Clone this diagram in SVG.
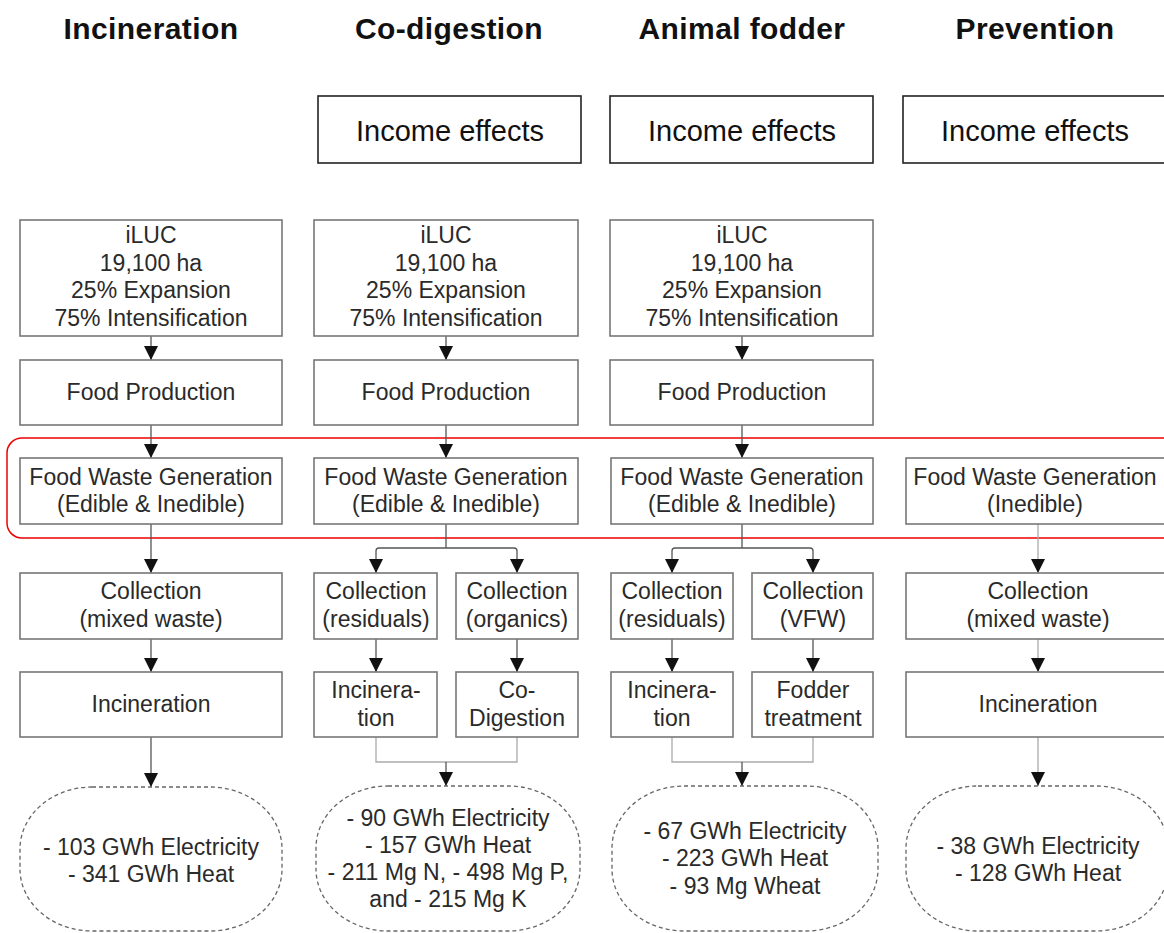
<svg xmlns="http://www.w3.org/2000/svg" width="1164" height="933" viewBox="0 0 1164 933">
<defs>
<marker id="ah" viewBox="0 0 10 10" refX="10" refY="5" markerWidth="14" markerHeight="14" markerUnits="userSpaceOnUse" orient="auto">
<path d="M0,0 L10,5 L0,10 z" fill="#111"/>
</marker>
<style>
.title{font-family:"Liberation Sans",Arial,sans-serif;font-weight:bold;font-size:30px;fill:#111;text-anchor:middle;letter-spacing:0.4px}
.ie{font-family:"Liberation Sans",Arial,sans-serif;font-size:29px;fill:#111;text-anchor:middle}
.iebox{fill:#fff;stroke:#222;stroke-width:1.6}
.box{fill:#fff;stroke:#777;stroke-width:1.6}
.oval{fill:#fff;stroke:#666;stroke-width:1.3;stroke-dasharray:4,3}
.t{font-family:"Liberation Sans",Arial,sans-serif;font-size:23px;fill:#2a2a2a;text-anchor:middle}
.c{fill:none;stroke:#555;stroke-width:1.3}
.cl{fill:none;stroke:#aaa;stroke-width:1.3}
</style>
</defs>
<rect width="1164" height="933" fill="#fff"/>

<g id="titles">
<text class="title" x="151" y="39">Incineration</text>
<text class="title" x="449" y="39">Co-digestion</text>
<text class="title" x="742" y="39">Animal fodder</text>
<text class="title" x="1035" y="39">Prevention</text>
</g>

<g id="income2"><rect class="iebox" x="318" y="96" width="263" height="67"/><text class="ie" x="450" y="141">Income effects</text></g>
<g id="income3"><rect class="iebox" x="610" y="96" width="263" height="67"/><text class="ie" x="742" y="141">Income effects</text></g>
<g id="income4"><rect class="iebox" x="903" y="96" width="270" height="67"/><text class="ie" x="1035" y="141">Income effects</text></g>

<g id="highlight"><rect x="7" y="438" width="1175" height="100" rx="15" ry="15" fill="none" stroke="#e00" stroke-width="1.5"/></g>

<g id="connectors">
<path class="c" d="M151,336 V360" marker-end="url(#ah)"/>
<path class="c" d="M151,425 V458" marker-end="url(#ah)"/>
<path class="c" d="M151,524 V573" marker-end="url(#ah)"/>
<path class="c" d="M151,639 V672" marker-end="url(#ah)"/>
<path class="c" d="M151,737 V787" marker-end="url(#ah)"/>
<path class="c" d="M446,336 V360" marker-end="url(#ah)"/>
<path class="c" d="M446,425 V458" marker-end="url(#ah)"/>
<path class="c" d="M446,524 V548"/>
<path class="c" d="M446,548 H379 Q376,548 376,551 V573" marker-end="url(#ah)"/>
<path class="c" d="M446,548 H514 Q517,548 517,551 V573" marker-end="url(#ah)"/>
<path class="c" d="M376,639 V672" marker-end="url(#ah)"/>
<path class="c" d="M517,639 V672" marker-end="url(#ah)"/>
<path class="cl" d="M376,737 V762 H517 V737"/>
<path class="c" d="M446,762 V786" marker-end="url(#ah)"/>
<path class="c" d="M742,336 V360" marker-end="url(#ah)"/>
<path class="c" d="M742,425 V458" marker-end="url(#ah)"/>
<path class="c" d="M742,524 V548"/>
<path class="c" d="M742,548 H675 Q672,548 672,551 V573" marker-end="url(#ah)"/>
<path class="c" d="M742,548 H810 Q813,548 813,551 V573" marker-end="url(#ah)"/>
<path class="c" d="M672,639 V672" marker-end="url(#ah)"/>
<path class="c" d="M813,639 V672" marker-end="url(#ah)"/>
<path class="cl" d="M672,737 V762 H813 V737"/>
<path class="c" d="M742,762 V786" marker-end="url(#ah)"/>
<path class="cl" d="M1038,524 V573" marker-end="url(#ah)"/>
<path class="cl" d="M1038,639 V672" marker-end="url(#ah)"/>
<path class="cl" d="M1038,737 V786" marker-end="url(#ah)"/>
</g>

<g id="c1-iluc"><rect class="box" x="20" y="220" width="262" height="116"/>
<text class="t" x="151" y="243">iLUC</text><text class="t" x="151" y="271">19,100 ha</text><text class="t" x="151" y="298">25% Expansion</text><text class="t" x="151" y="326">75% Intensification</text></g>
<g id="c1-fp"><rect class="box" x="20" y="360" width="262" height="65"/><text class="t" x="151" y="400">Food Production</text></g>
<g id="c1-fwg"><rect class="box" x="20" y="458" width="262" height="66"/><text class="t" x="151" y="485">Food Waste Generation</text><text class="t" x="151" y="512">(Edible &amp; Inedible)</text></g>
<g id="c1-col"><rect class="box" x="20" y="573" width="262" height="66"/><text class="t" x="151" y="599">Collection</text><text class="t" x="151" y="627">(mixed waste)</text></g>
<g id="c1-inc"><rect class="box" x="20" y="672" width="262" height="65"/><text class="t" x="151" y="712">Incineration</text></g>
<g id="c1-out"><rect class="oval" x="20" y="787" width="262" height="144" rx="72" ry="62"/><text class="t" x="151" y="855">- 103 GWh Electricity</text><text class="t" x="151" y="882">- 341 GWh Heat</text></g>

<g id="c2-iluc"><rect class="box" x="314" y="220" width="264" height="116"/>
<text class="t" x="446" y="243">iLUC</text><text class="t" x="446" y="271">19,100 ha</text><text class="t" x="446" y="298">25% Expansion</text><text class="t" x="446" y="326">75% Intensification</text></g>
<g id="c2-fp"><rect class="box" x="314" y="360" width="264" height="65"/><text class="t" x="446" y="400">Food Production</text></g>
<g id="c2-fwg"><rect class="box" x="314" y="458" width="264" height="66"/><text class="t" x="446" y="485">Food Waste Generation</text><text class="t" x="446" y="512">(Edible &amp; Inedible)</text></g>
<g id="c2-colr"><rect class="box" x="314" y="573" width="123" height="66"/><text class="t" x="376" y="599">Collection</text><text class="t" x="376" y="627">(residuals)</text></g>
<g id="c2-colo"><rect class="box" x="456" y="573" width="122" height="66"/><text class="t" x="517" y="599">Collection</text><text class="t" x="517" y="627">(organics)</text></g>
<g id="c2-inc"><rect class="box" x="314" y="672" width="123" height="65"/><text class="t" x="376" y="698">Incinera-</text><text class="t" x="376" y="726">tion</text></g>
<g id="c2-dig"><rect class="box" x="456" y="672" width="122" height="65"/><text class="t" x="517" y="698">Co-</text><text class="t" x="517" y="726">Digestion</text></g>
<g id="c2-out"><rect class="oval" x="316" y="786" width="264" height="145" rx="72" ry="62"/><text class="t" x="448" y="826">- 90 GWh Electricity</text><text class="t" x="448" y="853">- 157 GWh Heat</text><text class="t" x="448" y="880">- 211 Mg N, - 498 Mg P,</text><text class="t" x="448" y="907">and - 215 Mg K</text></g>

<g id="c3-iluc"><rect class="box" x="610" y="220" width="263" height="116"/>
<text class="t" x="742" y="243">iLUC</text><text class="t" x="742" y="271">19,100 ha</text><text class="t" x="742" y="298">25% Expansion</text><text class="t" x="742" y="326">75% Intensification</text></g>
<g id="c3-fp"><rect class="box" x="610" y="360" width="263" height="65"/><text class="t" x="742" y="400">Food Production</text></g>
<g id="c3-fwg"><rect class="box" x="611" y="458" width="262" height="66"/><text class="t" x="742" y="485">Food Waste Generation</text><text class="t" x="742" y="512">(Edible &amp; Inedible)</text></g>
<g id="c3-colr"><rect class="box" x="611" y="573" width="122" height="66"/><text class="t" x="672" y="599">Collection</text><text class="t" x="672" y="627">(residuals)</text></g>
<g id="c3-colv"><rect class="box" x="752" y="573" width="121" height="66"/><text class="t" x="813" y="599">Collection</text><text class="t" x="813" y="627">(VFW)</text></g>
<g id="c3-inc"><rect class="box" x="611" y="672" width="122" height="65"/><text class="t" x="672" y="698">Incinera-</text><text class="t" x="672" y="726">tion</text></g>
<g id="c3-fod"><rect class="box" x="752" y="672" width="121" height="65"/><text class="t" x="813" y="698">Fodder</text><text class="t" x="813" y="726">treatment</text></g>
<g id="c3-out"><rect class="oval" x="612" y="786" width="266" height="145" rx="72" ry="62"/><text class="t" x="745" y="839">- 67 GWh Electricity</text><text class="t" x="745" y="866">- 223 GWh Heat</text><text class="t" x="745" y="894">- 93 Mg Wheat</text></g>

<g id="c4-fwg"><rect class="box" x="906" y="458" width="262" height="66"/><text class="t" x="1035" y="485">Food Waste Generation</text><text class="t" x="1035" y="512">(Inedible)</text></g>
<g id="c4-col"><rect class="box" x="906" y="573" width="262" height="66"/><text class="t" x="1038" y="599">Collection</text><text class="t" x="1038" y="627">(mixed waste)</text></g>
<g id="c4-inc"><rect class="box" x="906" y="672" width="262" height="65"/><text class="t" x="1038" y="712">Incineration</text></g>
<g id="c4-out"><rect class="oval" x="906" y="786" width="262" height="145" rx="72" ry="62"/><text class="t" x="1038" y="854">- 38 GWh Electricity</text><text class="t" x="1038" y="881">- 128 GWh Heat</text></g>
</svg>
